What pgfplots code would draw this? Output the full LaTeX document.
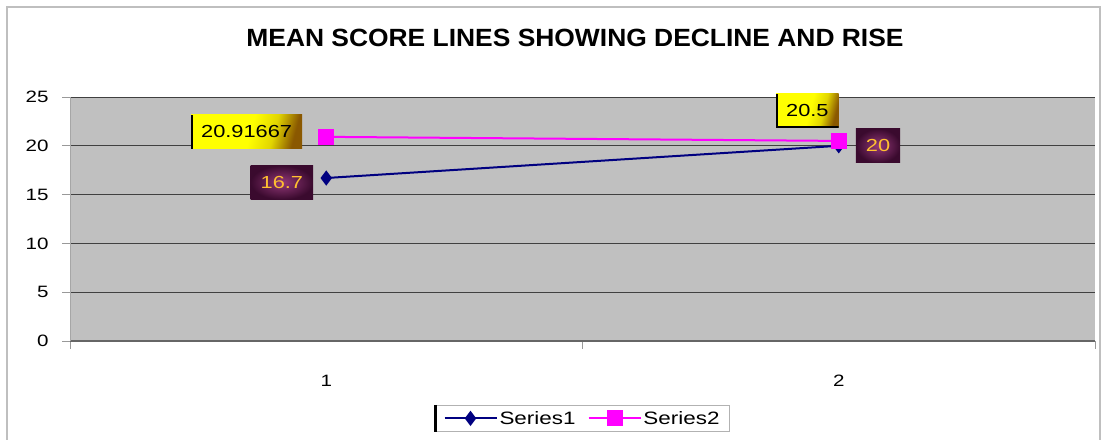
\documentclass[border=0pt]{standalone}
\usepackage{pgfplots}
\pgfplotsset{compat=1.18}
\usepackage{fontspec}
\setmainfont[FakeStretch=1.25]{Liberation Sans}
\newfontfamily\titlefont[FakeStretch=1.06]{Liberation Sans}
\usetikzlibrary{shadings}
\definecolor{plotgray}{HTML}{C0C0C0}
\definecolor{snavy}{HTML}{000080}
\definecolor{smag}{HTML}{FF00FF}
\definecolor{ybrown}{HTML}{8A5800}
\definecolor{pdark}{HTML}{3A0A2E}
\definecolor{pmid}{HTML}{923878}
\definecolor{lblorange}{HTML}{FFC030}
\pgfdeclarehorizontalshading{yshade}{100bp}{color(0bp)=(yellow); color(25bp)=(yellow); color(52bp)=(yellow); color(64bp)=(yellow!75!ybrown); color(75bp)=(ybrown); color(100bp)=(ybrown)}
\tikzset{
 ybox/.style={shading=yshade, shading angle=-15,
   minimum height=34bp, inner xsep=10bp, text=black, font=\fontsize{17.5}{20}\selectfont,
   path picture={\draw[black, line width=3bp] (path picture bounding box.south west) -- (path picture bounding box.north west);}},
 ybox2/.style={ybox, path picture={\draw[black, line width=3bp] (path picture bounding box.north west) -- (path picture bounding box.south west) -- (path picture bounding box.south east);}},
 pbox/.style={shade, inner color=pmid, outer color=pdark,
   minimum height=34bp, inner xsep=10bp, text=lblorange, font=\fontsize{17.5}{20}\selectfont},
}
\begin{document}
\begin{tikzpicture}
\useasboundingbox (0bp,0bp) rectangle (1102bp,440bp);
\fill[white] (0bp,0bp) rectangle (1102bp,440bp);
\draw[black!25, line width=1.5bp] (7bp,-5bp) -- (7bp,433bp) -- (1100bp,433bp) -- (1100bp,-5bp);
\node[font=\titlefont\bfseries\fontsize{25}{28}\selectfont] at (575bp,402bp) {MEAN SCORE LINES SHOWING DECLINE AND RISE};
\begin{axis}[
  at={(70bp,99bp)}, anchor=south west, scale only axis,
  width=1025bp, height=244bp,
  xmin=0.5, xmax=2.5, ymin=0, ymax=25,
  ytick={0,5,...,25},
  xtick={0.5,1.5,2.5}, xticklabels={},
  extra x ticks={1,2}, extra x tick labels={1,2},
  extra x tick style={major tick length=0pt, xticklabel style={yshift=-31bp}},
  axis background/.style={fill=plotgray},
  ymajorgrids, grid style={black!75, line width=0.6bp},
  axis lines=left, axis line style={-},
  x axis line style={black!60, line width=1.8bp},
  y axis line style={black!35, line width=1bp},
  tick align=outside, major tick length=8bp,
  tick style={black!40, line width=0.8bp},
  /pgf/number format/assume math mode=true,
  ticklabel style={font=\fontsize{16.5}{19}\selectfont},
  yticklabel style={xshift=-10bp},
  legend columns=2,
  legend style={at={(0.5,-0.262)}, anchor=north, draw=black!30, fill=white, name=leg,
    font=\fontsize{18}{21}\selectfont, inner ysep=4bp, inner xsep=8bp,
    /tikz/every even column/.append style={column sep=10bp}},
  legend image code/.code={\draw[mark repeat=2,mark phase=2] plot coordinates {(0bp,0bp) (26bp,0bp) (52bp,0bp)};},
  clip=false,
]
\addplot[snavy, line width=2bp, mark=diamond*, mark size=6bp, mark options={solid, fill=snavy}]
  coordinates {(1,16.7) (2,20)};
\addlegendentry{Series1}
\addplot[smag, line width=2bp, mark=square*, mark size=7bp, mark options={solid, fill=smag}]
  coordinates {(1,20.91667) (2,20.5)};
\addlegendentry{Series2}
\node[ybox, anchor=east, xshift=-24bp, yshift=5bp] at (axis cs:1,20.91667) {20.91667};
\node[pbox, anchor=east, xshift=-13bp, yshift=-4.5bp] at (axis cs:1,16.7) {16.7};
\node[ybox2, anchor=south east, yshift=13bp] at (axis cs:2,20.5) {20.5};
\node[pbox, anchor=west, xshift=17bp] at (axis cs:2,20) {20};
\end{axis}
\draw[black, line width=2.5bp] (leg.north west) -- (leg.south west);
\end{tikzpicture}
\end{document}
